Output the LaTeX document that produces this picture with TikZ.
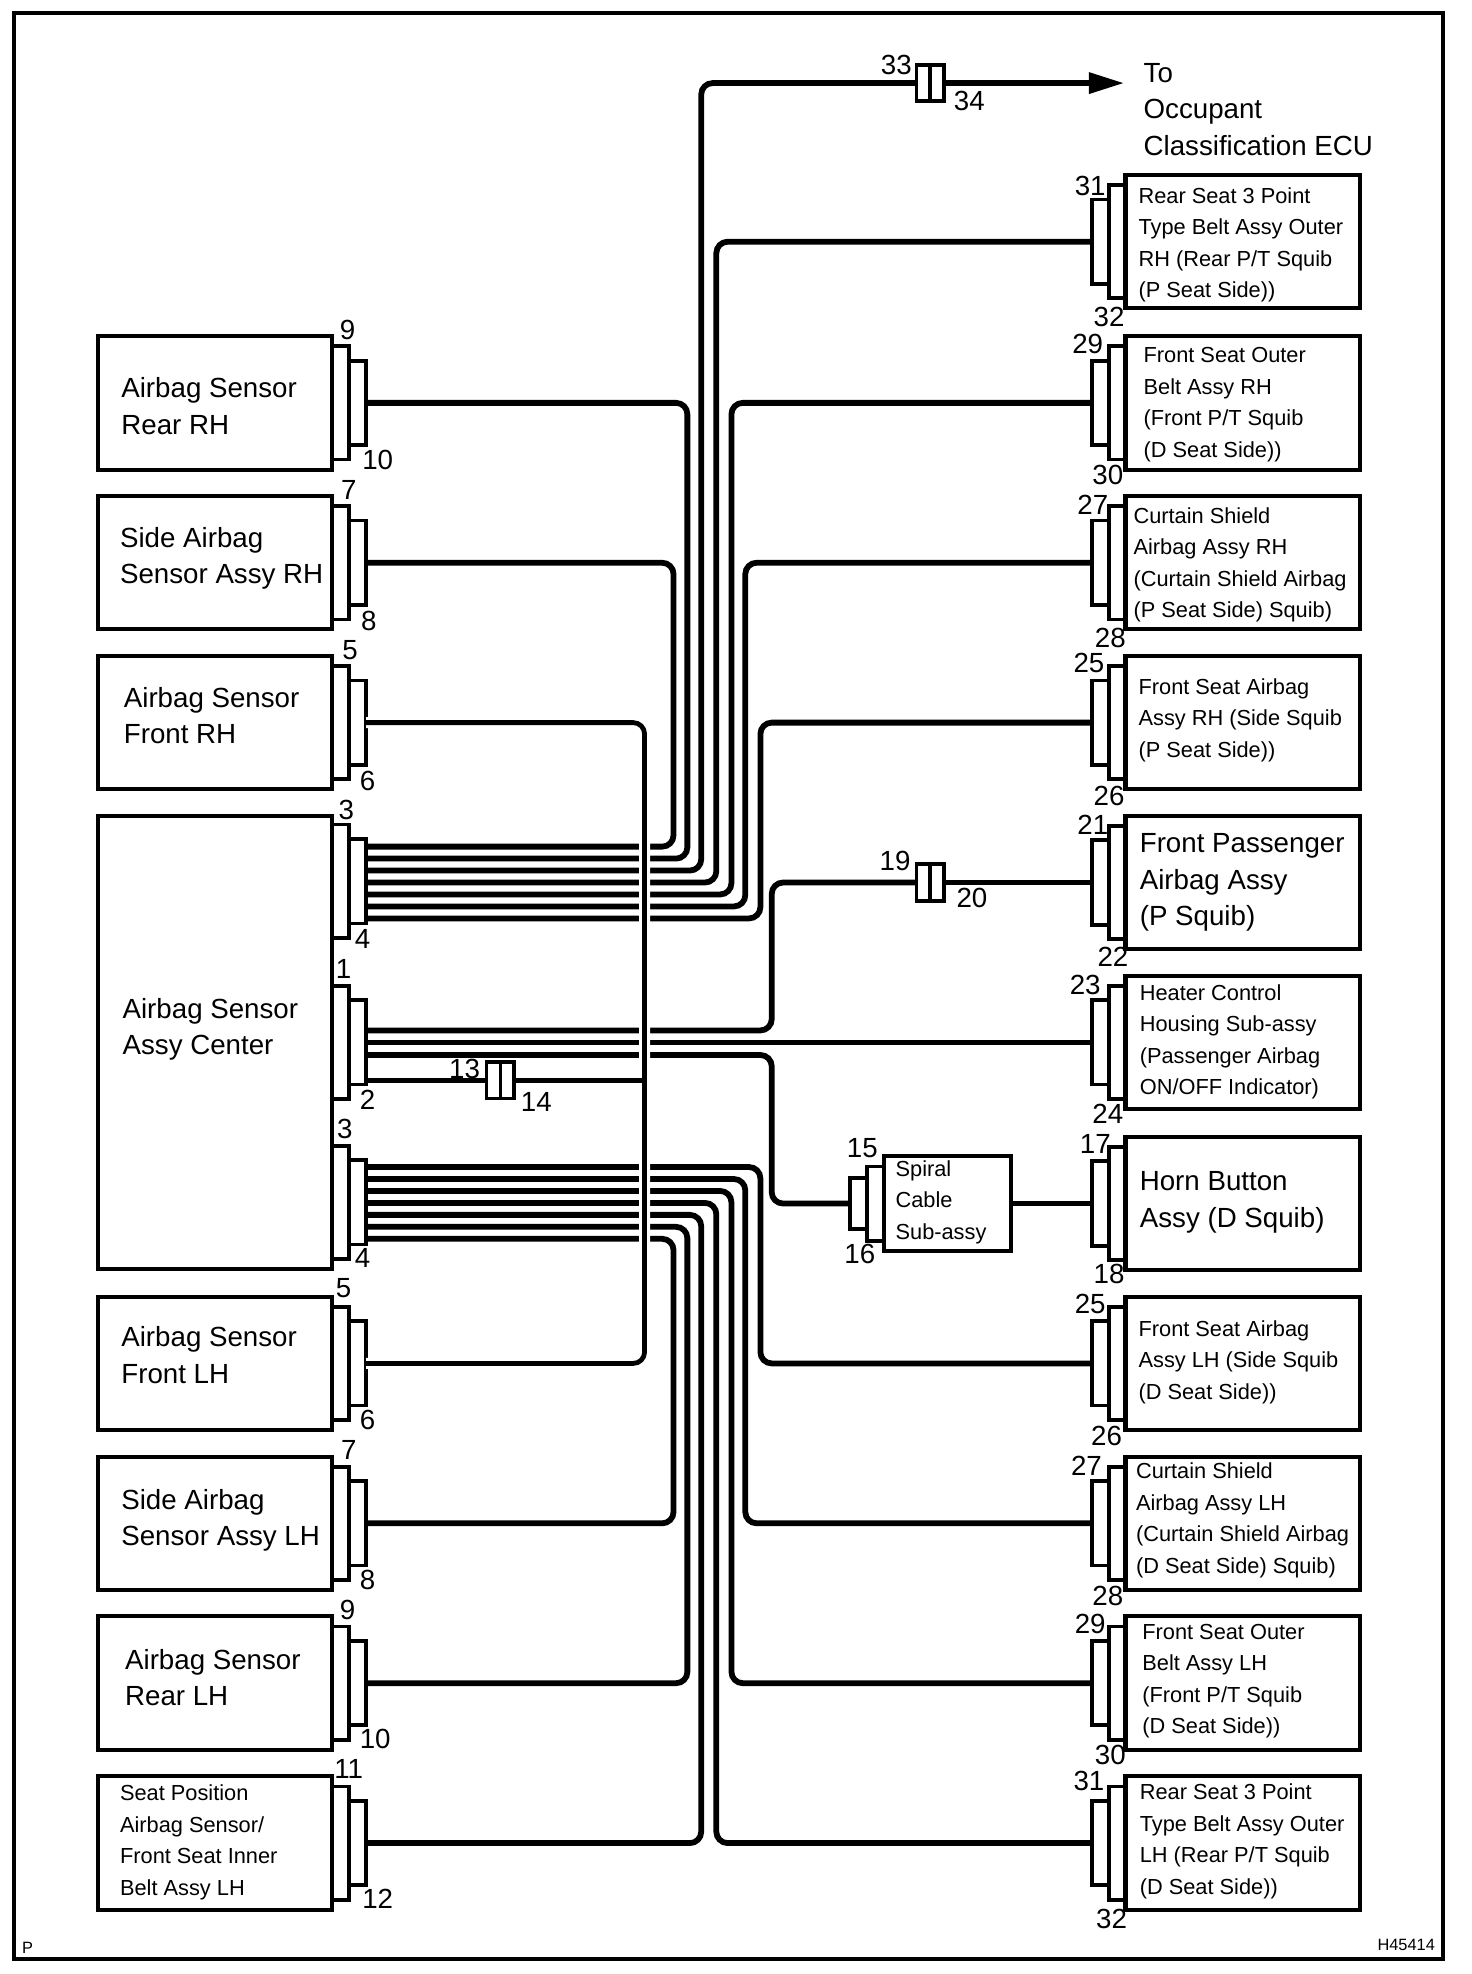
\documentclass[tikz,border=0pt]{standalone}
\usepackage{fontspec}
\setmainfont{Liberation Sans}
\usetikzlibrary{arrows.meta}
\tikzset{
  devbox/.style={draw,line width=1.6pt,rectangle,anchor=north west,inner sep=0pt,outer sep=0pt,minimum width=93pt,minimum height=53pt},
  plateA/.style={draw,line width=1.5pt,rectangle,inner sep=0pt,outer sep=0pt,minimum width=6.7pt,minimum height=45pt},
  plateB/.style={draw,line width=1.5pt,rectangle,inner sep=0pt,outer sep=0pt,minimum width=6.7pt,minimum height=33.5pt},
  inlinecon/.style={draw,line width=1.5pt,rectangle,inner sep=0pt,outer sep=0pt,minimum width=11pt,minimum height=14.5pt},
  wire/.style={line width=2.3pt,rounded corners=4.5pt},
  num/.style={inner sep=0pt,font=\fontsize{11}{13}\selectfont},
  bigtxt/.style={anchor=west,align=left,inner sep=0pt,font=\fontsize{11}{14.5}\selectfont},
  smalltxt/.style={anchor=west,align=left,inner sep=0pt,font=\fontsize{8.65}{12.5}\selectfont},
  tinytxt/.style={inner sep=0pt,font=\fontsize{6.5}{8}\selectfont}
}
\newcommand{\leftdev}[2]{
\node[devbox] (#1) at (78,#2) {};
\node[plateA,anchor=west] (#1A) at (#1.east) {};
\node[plateB,anchor=west] (#1B) at (#1A.east) {};
}
\newcommand{\rightdev}[2]{
\node[devbox] (#1) at (894,#2) {};
\node[plateA,anchor=east] (#1A) at (#1.west) {};
\node[plateB,anchor=east] (#1B) at (#1A.west) {};
}
\begin{document}
\begin{tikzpicture}[x=0.5pt,y=-0.5pt]
\useasboundingbox (0,0) rectangle (1169,1568);
\node[draw,line width=1.6pt,rectangle,anchor=north west,inner sep=0pt,outer sep=0pt,minimum width=567.5pt,minimum height=773pt] (frame) at (11,10) {};
\node[tinytxt] (pmark) at (22,1547) {P};
\node[tinytxt] (hnum) at (1117,1545) {H45414};

% left side
\leftdev{rrh}{267}
\node[num] (rrh9) at (276,262) {9};
\node[num] (rrh10) at (300,365) {10};
\node[bigtxt] (rrht) at (96,322.5) {Airbag Sensor\\Rear RH};
\leftdev{srh}{394}
\node[num] (srh7) at (277,389) {7};
\node[num] (srh8) at (293,493) {8};
\node[bigtxt] (srht) at (95,443.5) {Side Airbag\\Sensor Assy RH};
\leftdev{frh}{521}
\node[num] (frh5) at (278,516) {5};
\node[num] (frh6) at (292,620) {6};
\node[bigtxt] (frht) at (98,568.5) {Airbag Sensor\\Front RH};
\leftdev{flh}{1030}
\node[num] (flh5) at (273,1023) {5};
\node[num] (flh6) at (292,1128) {6};
\node[bigtxt] (flht) at (96,1076.5) {Airbag Sensor\\Front LH};
\leftdev{slh}{1157}
\node[num] (slh7) at (277,1152) {7};
\node[num] (slh8) at (292,1255) {8};
\node[bigtxt] (slht) at (96,1207.5) {Side Airbag\\Sensor Assy LH};
\leftdev{rlh}{1284}
\node[num] (rlh9) at (276,1279) {9};
\node[num] (rlh10) at (298,1381) {10};
\node[bigtxt] (rlht) at (99,1332.5) {Airbag Sensor\\Rear LH};
\leftdev{spos}{1411}
\node[num] (spos11) at (277,1405) {11};
\node[num] (spos12) at (300,1508) {12};
\node[smalltxt] (spost) at (95,1463.5) {Seat Position\\Airbag Sensor/\\Front Seat Inner\\Belt Assy LH};

% center unit
\node[devbox,minimum height=180pt] (ctr) at (78,648) {};
\node[bigtxt] (ctrt) at (97,817.5) {Airbag Sensor\\Assy Center};
\node[plateA,anchor=west] (caA) at (264,700) {};
\node[plateB,anchor=west] (caB) at (caA.east) {};
\node[plateA,anchor=west] (cbA) at (264,828) {};
\node[plateB,anchor=west] (cbB) at (cbA.east) {};
\node[plateA,anchor=west] (ccA) at (264,955) {};
\node[plateB,anchor=west] (ccB) at (ccA.east) {};
\node[num] (ca3) at (275,643) {3};
\node[num] (ca4) at (288,746) {4};
\node[num] (cb1) at (273,770) {1};
\node[num] (cb2) at (292,874) {2};
\node[num] (cc3) at (274,897) {3};
\node[num] (cc4) at (288,999) {4};

% right side
\rightdev{rsr}{139}
\node[num] (rsr31) at (866,148) {31};
\node[num] (rsr32) at (881,252) {32};
\node[smalltxt] (rsrt) at (904,194.5) {Rear Seat 3 Point\\Type Belt Assy Outer\\RH (Rear P/T Squib\\(P Seat Side))};
\rightdev{fsr}{267}
\node[num] (fsr29) at (864,273) {29};
\node[num] (fsr30) at (880,377) {30};
\node[smalltxt] (fsrt) at (908,321.5) {Front Seat Outer\\Belt Assy RH\\(Front P/T Squib\\(D Seat Side))};
\rightdev{csr}{394}
\node[num] (csr27) at (868,401) {27};
\node[num] (csr28) at (882,507) {28};
\node[smalltxt] (csrt) at (900,448.5) {Curtain Shield\\Airbag Assy RH\\(Curtain Shield Airbag\\(P Seat Side) Squib)};
\rightdev{far}{521}
\node[num] (far25) at (865,527) {25};
\node[num] (far26) at (881,632) {26};
\node[smalltxt] (fart) at (904,572) {Front Seat Airbag\\Assy RH (Side Squib\\(P Seat Side))};
\rightdev{fpa}{648}
\node[num] (fpa21) at (868,655) {21};
\node[num] (fpa22) at (884,760) {22};
\node[bigtxt] (fpat) at (905,701) {Front Passenger\\Airbag Assy\\(P Squib)};
\rightdev{hch}{775}
\node[num] (hch23) at (862,782) {23};
\node[num] (hch24) at (880,885) {24};
\node[smalltxt] (hcht) at (905,827.5) {Heater Control\\Housing Sub-assy\\(Passenger Airbag\\ON/OFF Indicator)};
\rightdev{hrn}{903}
\node[num] (hrn17) at (870,909) {17};
\node[num] (hrn18) at (881,1012) {18};
\node[bigtxt] (hrnt) at (905,955) {Horn Button\\Assy (D Squib)};
\rightdev{fal}{1030}
\node[num] (fal25) at (866,1036) {25};
\node[num] (fal26) at (879,1141) {26};
\node[smalltxt] (falt) at (904,1082) {Front Seat Airbag\\Assy LH (Side Squib\\(D Seat Side))};
\rightdev{csl}{1157}
\node[num] (csl27) at (863,1164) {27};
\node[num] (csl28) at (880,1268) {28};
\node[smalltxt] (cslt) at (902,1207.5) {Curtain Shield\\Airbag Assy LH\\(Curtain Shield Airbag\\(D Seat Side) Squib)};
\rightdev{fsl}{1284}
\node[num] (fsl29) at (866,1290) {29};
\node[num] (fsl30) at (882,1394) {30};
\node[smalltxt] (fslt) at (907,1335.5) {Front Seat Outer\\Belt Assy LH\\(Front P/T Squib\\(D Seat Side))};
\rightdev{rsl}{1411}
\node[num] (rsl31) at (865,1415) {31};
\node[num] (rsl32) at (883,1524) {32};
\node[smalltxt] (rslt) at (905,1462.5) {Rear Seat 3 Point\\Type Belt Assy Outer\\LH (Rear P/T Squib\\(D Seat Side))};

% spiral cable
\node[draw,line width=1.6pt,rectangle,anchor=north west,inner sep=0pt,outer sep=0pt,minimum width=50.5pt,minimum height=38pt] (spc) at (702,918) {};
\node[plateA,anchor=east,minimum height=29.5pt] (spcA) at (spc.west) {};
\node[plateB,anchor=east,minimum height=20pt] (spcB) at (spcA.west) {};
\node[num] (spc15) at (685,912) {15};
\node[num] (spc16) at (683,996) {16};
\node[smalltxt] (spct) at (711,955) {Spiral\\Cable\\Sub-assy};

% inline connectors
\node[inlinecon] (j33) at (739,66) {};
\draw[line width=1.5pt] (j33.north) -- (j33.south);
\node[num] (j33a) at (712,52) {33};
\node[num] (j33b) at (770,80) {34};
\node[inlinecon] (j19) at (739,701) {};
\draw[line width=1.5pt] (j19.north) -- (j19.south);
\node[num] (j19a) at (711,684) {19};
\node[num] (j19b) at (772,713) {20};
\node[inlinecon] (j13) at (397.5,858) {};
\draw[line width=1.5pt] (j13.north) -- (j13.south);
\node[num] (j13a) at (369,849) {13};
\node[num] (j13b) at (426,875) {14};
\coordinate (ecu) at (893,66);
\node[bigtxt] (ecut) at (908,87) {To\\Occupant\\Classification ECU};

% wire ends on the center unit
\foreach \i in {1,...,7} {
\coordinate (wa\i) at (291,{672.5+(\i-1)*9.5});
\coordinate (wc\i) at (291,{927+(\i-1)*9.5});
}
\coordinate (wb1) at (291,818.5);
\coordinate (wb2) at (291,828);
\coordinate (wb3) at (291,838);
\coordinate (wb4) at (291,858);
\coordinate (wb4j) at (512,858);

% upper bundle
\draw[wire] (srhB.east) -| (535,672.5) -- (wa1);
\draw[wire] (rrhB.east) -| (546,682) -- (wa2);
\draw[wire] (j33.west) -| (557,691.5) -- (wa3);
\draw[wire] (rsrB.west) -| (569,701) -- (wa4);
\draw[wire] (fsrB.west) -| (581,710.5) -- (wa5);
\draw[wire] (csrB.west) -| (592,720) -- (wa6);
\draw[wire] (farB.west) -| (604,729.5) -- (wa7);
\draw[wire,-{Triangle[length=14pt,width=8pt]}] (j33.east) -- (ecu);

% middle group
\draw[wire] (wb1) -| (613,701) -- (j19.west);
\draw[wire] (j19.east) -- (fpaB.west);
\draw[wire] (wb2) -- (hchB.west);
\draw[wire] (wb3) -| (613,956) -- (spcB.west);
\draw[wire] (spc.east) -- (hrnB.west);

% lower bundle
\draw[wire] (wc1) -| (604,1083) -- (falB.west);
\draw[wire] (wc2) -| (592,1210) -- (cslB.west);
\draw[wire] (wc3) -| (581,1337) -- (fslB.west);
\draw[wire] (wc4) -| (569,1464) -- (rslB.west);
\draw[wire] (wc5) -| (557,1464) -- (sposB.east);
\draw[wire] (wc6) -| (546,1337) -- (rlhB.east);
\draw[wire] (wc7) -| (535,1210) -- (slhB.east);

% front sensors cross the bundles
\draw[wire,line width=1.9pt,preaction={draw,white,line width=4.4pt}] (frhB.east) -| (512,1083) -- (flhB.east);
\draw[wire,line width=1.9pt] (wb4) -- (j13.west);
\draw[wire,line width=1.9pt] (j13.east) -- (wb4j);
\end{tikzpicture}
\end{document}
